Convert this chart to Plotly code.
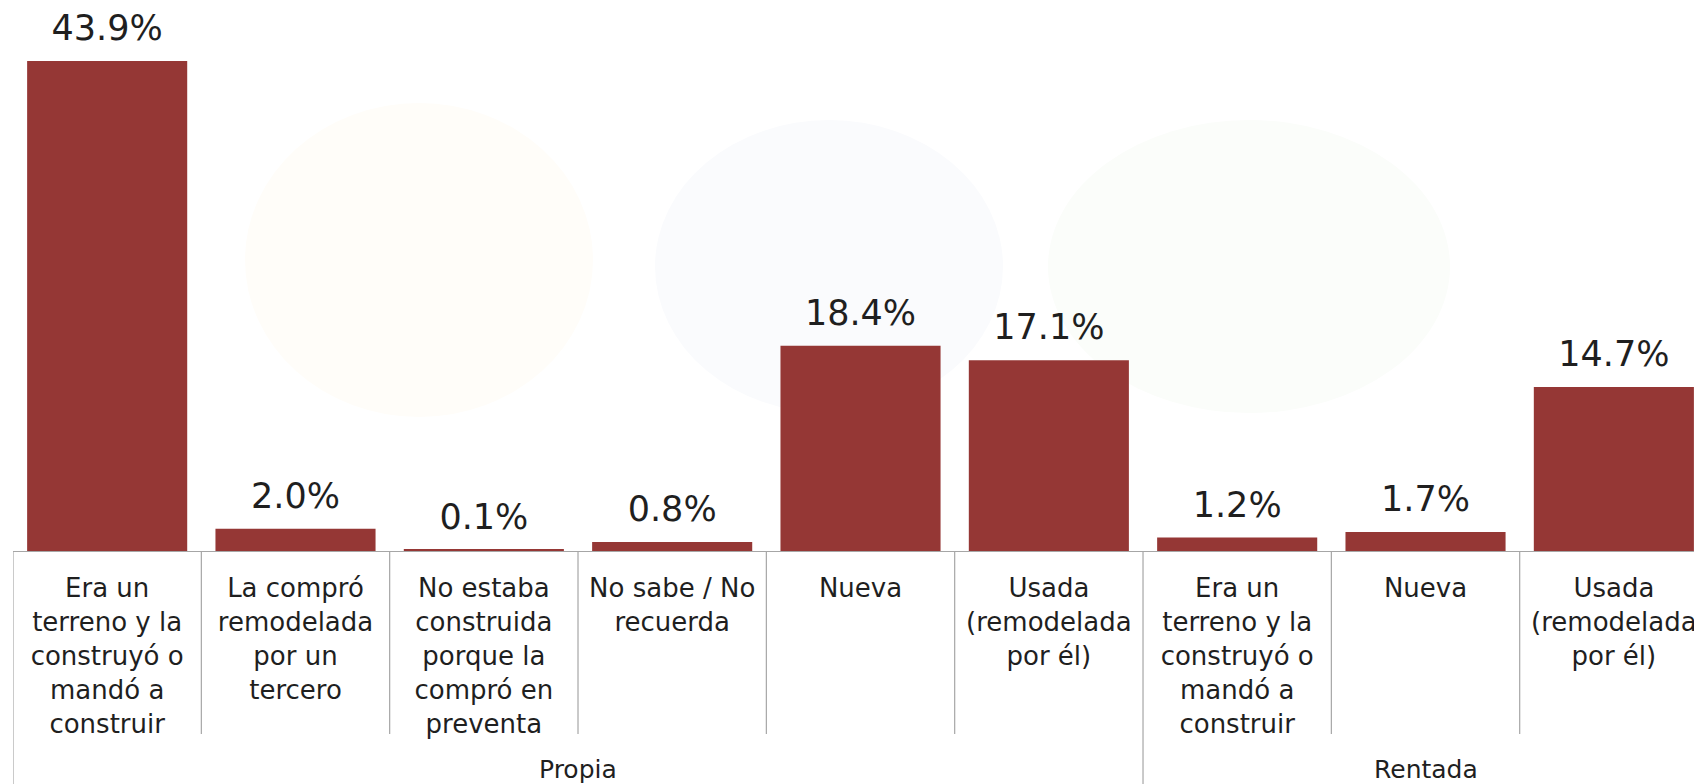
import plotly.graph_objects as go

# -----------------------------------------------------------------------------
# Data
# -----------------------------------------------------------------------------

groups = ["Propia"] * 6 + ["Rentada"] * 3
categories = [
    "Era un<br>terreno y la<br>construyó o<br>mandó a<br>construir",
    "La compró<br>remodelada<br>por un<br>tercero",
    "No estaba<br>construida<br>porque la<br>compró en<br>preventa",
    "No sabe / No<br>recuerda",
    "Nueva",
    "Usada<br>(remodelada<br>por él)",
    "Era un<br>terreno y la<br>construyó o<br>mandó a<br>construir",
    "Nueva",
    "Usada<br>(remodelada<br>por él)",
]
values = [43.9, 2.0, 0.1, 0.8, 18.4, 17.1, 1.2, 1.7, 14.7]

BAR = "#953735"
TXT = "#1f1f1f"
LINE = "#a6a6a6"
FONT = "DejaVu Sans"

# unique keys so the repeated labels stay separate categories
keys = [f"{g}|{c}" for g, c in zip(groups, categories)]
x_range = [-0.5, 8.468]

# the page body adds an 8px margin, so the figure is shrunk by that much
W, H = 1694, 776
ML, MB = 5, 233
plot_w, plot_h = W - ML, H - MB

# -----------------------------------------------------------------------------
# Figure
# -----------------------------------------------------------------------------

fig = go.Figure()

# very faint watermark behind the bars (page pixel boxes)
for (x0, x1, y0, y1, col) in [
    (245, 593, 103, 417, "#fffdf9"),
    (655, 1003, 120, 413, "#fafbfd"),
    (1048, 1450, 120, 413, "#fbfdfa"),
]:
    fig.add_shape(type="circle", xref="paper", yref="paper", layer="below",
                  x0=(x0 - 8 - ML) / plot_w, x1=(x1 - 8 - ML) / plot_w,
                  y0=(plot_h + 8 - y1) / plot_h, y1=(plot_h + 8 - y0) / plot_h,
                  fillcolor=col, line_width=0)

fig.add_trace(go.Bar(
    x=keys, y=values,
    marker_color=BAR, marker_line_width=0,
    hoverinfo="skip",
))

# value labels, pushed up a bit by an invisible marker
fig.add_trace(go.Scatter(
    x=keys, y=values,
    mode="markers+text",
    text=[f"{v:.1f}%" for v in values],
    textposition="top center",
    textfont=dict(family=FONT, size=35, color=TXT),
    marker=dict(size=18, opacity=0),
    cliponaxis=False, hoverinfo="skip",
))

# separators: short ones inside a group, long ones at group edges
for i in range(-1, len(values)):
    edge = i == -1 or i == len(values) - 1 or groups[i] != groups[i + 1]
    depth = MB if edge else 183
    fig.add_shape(type="line", xref="x", yref="paper",
                  x0=i + 0.5, x1=i + 0.5, y0=0, y1=-depth / plot_h,
                  line=dict(color=LINE, width=1.2))

# group names centred under their categories
for g in dict.fromkeys(groups):
    idx = [i for i, gg in enumerate(groups) if gg == g]
    fig.add_annotation(x=sum(idx) / len(idx), y=0, xref="x", yref="paper",
                       text=g, showarrow=False, yanchor="middle", yshift=-218,
                       font=dict(family=FONT, size=25, color=TXT))

fig.update_xaxes(
    type="category", range=x_range, automargin=False,
    tickvals=keys, ticktext=categories,
    showline=True, linecolor=LINE, linewidth=1.2,
    ticks="", ticklabelstandoff=14,
    tickfont=dict(family=FONT, size=26, color=TXT),
    showgrid=False,
)
fig.update_yaxes(range=[0, 48.65], visible=False, automargin=False)

fig.update_layout(
    width=W, height=H,
    margin=dict(l=ML, r=0, t=0, b=MB),
    plot_bgcolor="rgba(0,0,0,0)", paper_bgcolor="white",
    bargap=0.15, showlegend=False,
    font=dict(family=FONT, color=TXT),
)

fig.write_html("out.html")
